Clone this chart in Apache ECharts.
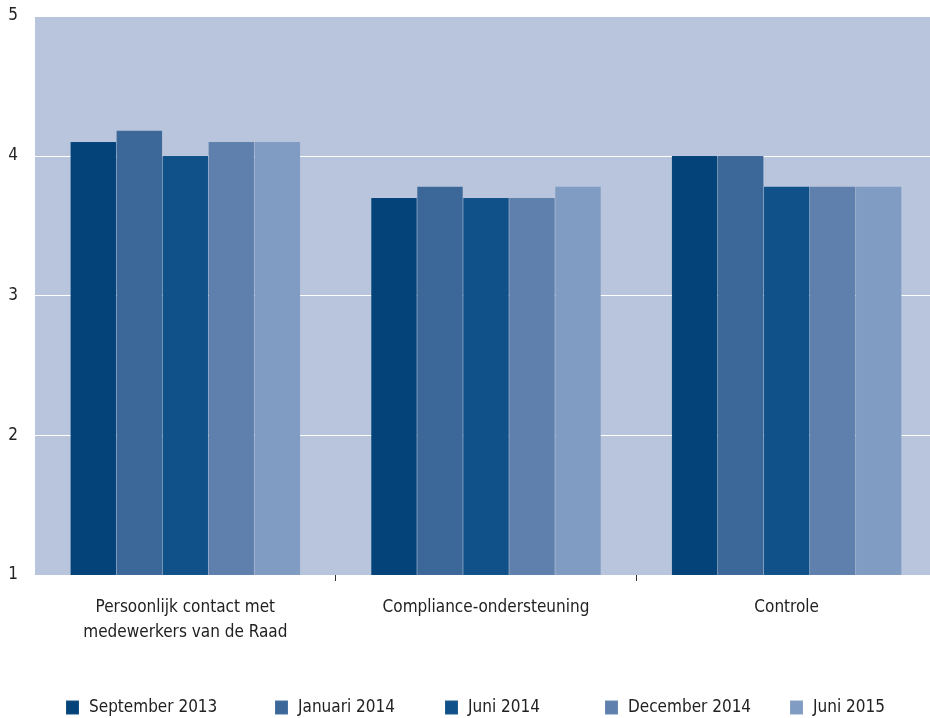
<!DOCTYPE html>
<html><head><meta charset="utf-8">
<script src="https://cdn.jsdelivr.net/npm/echarts@6/dist/echarts.min.js"></script>
<style>html,body{margin:0;padding:0;background:#fff;overflow:hidden;width:930px;height:718px}#c{width:940px;height:718px}</style>
</head><body><div id="c"></div>
<script>
var categories = ['Persoonlijk contact met\nmedewerkers van de Raad', 'Compliance-ondersteuning', 'Controle'];
var seriesNames = ['September 2013', 'Januari 2014', 'Juni 2014', 'December 2014', 'Juni 2015'];
var sep2013 = [4.1, 3.7, 4.0];
var jan2014 = [4.18, 3.78, 4.0];
var jun2014 = [4.0, 3.7, 3.78];
var dec2014 = [4.1, 3.7, 3.78];
var jun2015 = [4.1, 3.78, 3.78];
var yTicks = [1, 2, 3, 4, 5];

var values = [sep2013, jan2014, jun2014, dec2014, jun2015];
var colors = ['#03437a', '#3c6899', '#0f5188', '#5f80ad', '#819cc2'];
var legendLeft = [65, 274, 444, 604, 789];
var font = '"DejaVu Sans Condensed", "DejaVu Sans", sans-serif';

var chart = echarts.init(document.getElementById('c'));
chart.setOption({
  animation: false,
  textStyle: {fontFamily: font},
  grid: {left: 35, top: 16, right: 3, height: 559, show: true, backgroundColor: '#b8c5dc', borderWidth: 0},
  legend: seriesNames.map(function (n, i) {
    return {data: [{name: n, icon: 'rect'}], left: legendLeft[i], top: 699, padding: 0, itemWidth: 13, itemHeight: 14, itemGap: 0,
      textStyle: {fontFamily: font, fontSize: 17, color: '#222', padding: [0, 0, 0, 5]}};
  }),
  xAxis: {
    type: 'category', data: categories,
    axisLine: {show: false},
    axisTick: {show: true, length: 6, lineStyle: {color: '#333'}, interval: function (i) { return i > 0; }},
    axisLabel: {fontSize: 17, color: '#222', margin: 20, lineHeight: 25, interval: 0, fontFamily: font}
  },
  yAxis: {
    type: 'value', min: yTicks[0], max: yTicks[yTicks.length - 1], interval: 1,
    axisLine: {show: false}, axisTick: {show: false},
    splitLine: {lineStyle: {color: '#ffffff', width: 1}},
    axisLabel: {fontSize: 17, color: '#222', margin: 17, fontFamily: font,
      verticalAlign: 'middle'}
  },
  series: seriesNames.map(function (n, i) {
    return {name: n, type: 'bar', data: values[i], barWidth: 46, barGap: '0%',
      itemStyle: {color: colors[i], borderColor: 'rgba(255,255,255,0.08)', borderWidth: 0.5}};
  })
});
</script></body></html>
